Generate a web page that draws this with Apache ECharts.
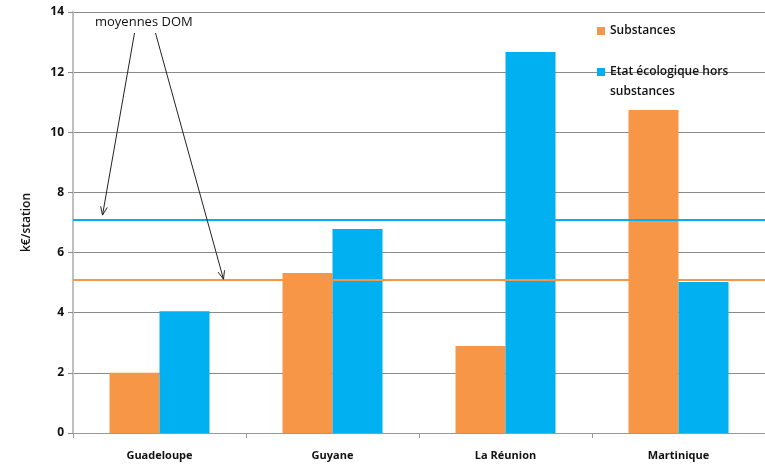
<!DOCTYPE html>
<html>
<head>
<meta charset="utf-8">
<script src="https://cdn.jsdelivr.net/npm/echarts@6/dist/echarts.min.js"></script>
<style>
  html, body { margin: 0; padding: 0; background: #fff; }
  #chart { width: 765px; height: 465px; }
</style>
</head>
<body>
<div id="chart"></div>
<script>
// Coût moyen par station, par département d'outre-mer
const categories = ['Guadeloupe', 'Guyane', 'La Réunion', 'Martinique'];
const substances = [2.0, 5.32, 2.89, 10.74];
const etatEcologique = [4.05, 6.78, 12.67, 5.02];
// Moyennes DOM
const moyenneSubstances = 5.08;
const moyenneEtat = 7.08;
const yTicks = [0, 2, 4, 6, 8, 10, 12, 14];

const ORANGE = '#F79646';
const BLUE = '#00B0F0';
const FONT = '"Open Sans", "Liberation Sans", sans-serif';
const NAME_SUB = 'Substances';
const NAME_ETAT = 'Etat écologique hors\nsubstances';

const chart = echarts.init(document.getElementById('chart'), null, { renderer: 'canvas' });

function averageLine(name, value, color, z) {
  return {
    name: name,
    type: 'line',
    data: [],
    z: z,
    silent: true,
    markLine: {
      silent: true,
      symbol: 'none',
      label: { show: false },
      lineStyle: { color: color, width: 2, type: 'solid' },
      data: [{ yAxis: value }]
    }
  };
}

chart.setOption({
  animation: false,
  textStyle: { fontFamily: FONT },
  grid: { left: 73, top: 12, width: 698, height: 421 },
  legend: {
    orient: 'vertical',
    left: 592,
    top: 16,
    itemWidth: 8,
    itemHeight: 8,
    itemGap: 1,
    icon: 'rect',
    // a blank leading line keeps the square level with the first text line
    formatter: function (name) { return name === NAME_ETAT ? '\n' + name : name; },
    textStyle: { fontFamily: FONT, fontSize: 12, fontWeight: 600, color: '#111', lineHeight: 20 },
    data: [{ name: NAME_SUB }, { name: NAME_ETAT }]
  },
  xAxis: {
    type: 'category',
    data: categories,
    axisLine: { lineStyle: { color: '#9a9a9a', width: 1 } },
    axisTick: { show: true, length: 5, interval: 0, lineStyle: { color: '#9a9a9a' } },
    axisLabel: { fontFamily: FONT, fontSize: 11, fontWeight: 700, color: '#111', margin: 17 }
  },
  yAxis: {
    type: 'value',
    min: yTicks[0],
    max: yTicks[yTicks.length - 1],
    interval: 2,
    name: 'k€/station',
    nameLocation: 'middle',
    nameGap: 40,
    nameTextStyle: { fontFamily: FONT, fontSize: 12, fontWeight: 600, color: '#111' },
    axisLine: { show: true, lineStyle: { color: '#bfbfbf', width: 2 } },
    axisTick: { show: true, length: 5, lineStyle: { color: '#8a8a8a' } },
    axisLabel: { fontFamily: FONT, fontSize: 12, fontWeight: 700, color: '#111', margin: 9 },
    splitLine: { lineStyle: { color: '#8a8a8a', width: 1 } }
  },
  series: [
    {
      name: NAME_SUB,
      type: 'bar',
      data: substances,
      barWidth: 50,
      barGap: '0%',
      z: 2,
      itemStyle: { color: ORANGE }
    },
    {
      name: NAME_ETAT,
      type: 'bar',
      data: etatEcologique,
      barWidth: 50,
      barGap: '0%',
      z: 2,
      itemStyle: { color: BLUE }
    },
    averageLine('Moyenne état écologique', moyenneEtat, BLUE, 1),
    averageLine('Moyenne substances', moyenneSubstances, ORANGE, 3)
  ]
});

// Annotation "moyennes DOM" with arrows pointing at both average lines
const yBlue = chart.convertToPixel({ yAxisIndex: 0 }, moyenneEtat);
const yOrange = chart.convertToPixel({ yAxisIndex: 0 }, moyenneSubstances);
const xCenter = chart.convertToPixel({ xAxisIndex: 0 }, categories[0]);

function arrow(x1, y1, x2, y2) {
  const ang = Math.atan2(y2 - y1, x2 - x1);
  const len = 9, spread = 0.38;
  return [
    { type: 'line', z: 10, shape: { x1, y1, x2, y2 }, style: { stroke: '#222', lineWidth: 1 } },
    { type: 'polyline', z: 10, shape: { points: [
      [x2 - len * Math.cos(ang - spread), y2 - len * Math.sin(ang - spread)],
      [x2, y2],
      [x2 - len * Math.cos(ang + spread), y2 - len * Math.sin(ang + spread)]
    ] }, style: { stroke: '#222', lineWidth: 1, fill: null } }
  ];
}

chart.setOption({
  graphic: [
    { type: 'text', left: 95, top: 16,
      style: { text: 'moyennes DOM', fontFamily: FONT, fontSize: 13, fill: '#111' } },
    ...arrow(xCenter - 25, 33, xCenter - 57, yBlue - 5),
    ...arrow(xCenter - 4, 33, xCenter + 64, yOrange - 1)
  ]
});
</script>
</body>
</html>
